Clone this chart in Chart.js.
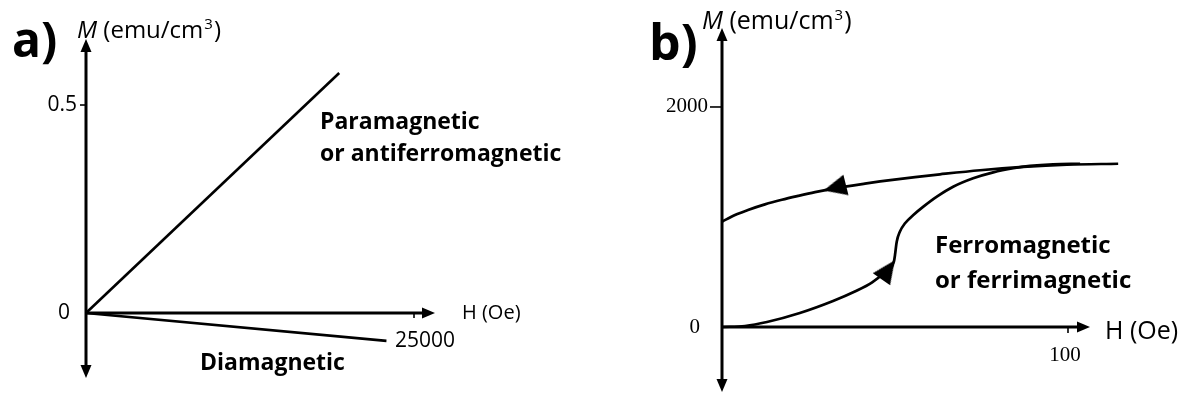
<!DOCTYPE html>
<html>
<head>
<meta charset="utf-8">
<script src="https://cdn.jsdelivr.net/npm/chart.js@4.4.1/dist/chart.umd.min.js"></script>
<style>
  html, body { margin: 0; padding: 0; background: #fff; }
  #wrap { position: relative; width: 1186px; height: 396px; overflow: hidden; }
  canvas { position: absolute; top: 0; }
  #chartA { left: 0; }
  #chartB { left: 593px; }
</style>
</head>
<body>
<div id="wrap">
  <canvas id="chartA" width="593" height="396"></canvas>
  <canvas id="chartB" width="593" height="396"></canvas>
</div>
<script>
// ---- a) linear magnetisation curves ----
const paraH = [0, 19300];
const paraM = [0, 0.577];
const diaH  = [0, 22900];
const diaM  = [0, -0.067];
const aTickX = [25000];
const aTickXLabels = ['25000'];
const aTickY = [0, 0.5];
const aTickYLabels = ['0', '0.5'];

// ---- b) hysteresis loop ----
// descending branch (from saturation back to remanence)
const downH = [0, 3.76, 7.51, 12.4, 17.3, 22.0, 26.9, 33.0, 41.3, 45.7, 55.8, 63.0, 74.6, 87.0, 99.7, 114.5];
const downM = [957, 1018, 1064, 1115, 1157, 1192, 1226, 1262, 1303, 1323, 1363, 1388, 1425, 1455, 1475, 1484];
// initial magnetisation curve
const riseH = [0, 6.65, 13.0, 22.5, 32.1, 38.4, 43.4, 46.8, 49.7, 50.0, 50.5, 51.4, 52.9, 55.3, 58.2, 62.1, 66.8, 72.6, 78.4, 84.2, 89.0, 95.7, 103.5];
const riseM = [0, 9, 45, 127, 236, 322, 405, 490, 597, 655, 775, 866, 943, 1018, 1094, 1185, 1275, 1352, 1406, 1443, 1464, 1479, 1484];
// direction arrows on the curves
const arrowH = [32.6, 48.0];
const arrowM = [1266, 520];
const arrowDeg = [256, 35];
const bTickX = [100];
const bTickXLabels = ['100'];
const bTickY = [0, 2000];
const bTickYLabels = ['0', '2000'];

const pts = (xs, ys) => xs.map((v, i) => ({ x: v, y: ys[i] }));

const SANS = '"Open Sans", "Noto Sans", sans-serif';
const SERIF = '"Liberation Serif", "DejaVu Serif", serif';

// arrowhead glyph used as the point style of the direction markers (tip up)
const arrowHead = (() => {
  const c = document.createElement('canvas');
  c.width = 21; c.height = 23;
  const g = c.getContext('2d');
  g.fillStyle = '#000';
  g.beginPath(); g.moveTo(10.5, 0); g.lineTo(21, 23); g.lineTo(0, 23); g.closePath(); g.fill();
  return c;
})();

// Axes with arrowheads through the origin, tick marks and all labels
const axesPlugin = {
  id: 'axesPlugin',
  beforeDatasetsDraw(chart, args, o) {
    const { ctx, chartArea: a, scales: { x, y } } = chart;
    const x0 = x.getPixelForValue(0);
    const y0 = y.getPixelForValue(0);
    const xr = a.right, yt = a.top, yb = a.bottom;
    const L = 13, W = 5.5;
    ctx.save();
    ctx.strokeStyle = '#000';
    ctx.fillStyle = '#000';
    ctx.lineWidth = o.axisWidth;
    ctx.lineCap = 'butt';
    ctx.beginPath();
    ctx.moveTo(x0, yt + L - 2); ctx.lineTo(x0, yb - L + 2);
    ctx.moveTo(x0, y0); ctx.lineTo(xr - L + 2, y0);
    ctx.stroke();
    const tri = (p) => { ctx.beginPath(); ctx.moveTo(...p[0]); ctx.lineTo(...p[1]); ctx.lineTo(...p[2]); ctx.closePath(); ctx.fill(); };
    tri([[x0, yt], [x0 - W, yt + L], [x0 + W, yt + L]]);
    tri([[x0, yb], [x0 - W, yb - L], [x0 + W, yb - L]]);
    tri([[xr, y0], [xr - L, y0 - W], [xr - L, y0 + W]]);
    ctx.lineWidth = 1.6;
    o.tickX.forEach(v => {
      const px = x.getPixelForValue(v);
      ctx.beginPath(); ctx.moveTo(px, y0 - 1); ctx.lineTo(px, y0 + o.tickLenX); ctx.stroke();
    });
    o.tickY.forEach(v => {
      if (v === 0) return;
      const py = y.getPixelForValue(v);
      ctx.beginPath(); ctx.moveTo(x0 - o.tickLenY, py); ctx.lineTo(x0, py); ctx.stroke();
    });
    ctx.restore();
  },
  afterDraw(chart, args, o) {
    const { ctx, chartArea: a, scales: { x, y } } = chart;
    const x0 = x.getPixelForValue(0);
    const y0 = y.getPixelForValue(0);
    ctx.save();
    ctx.fillStyle = '#000';
    ctx.font = o.tickFont;
    ctx.textBaseline = 'middle';
    o.tickY.forEach((v, i) => {
      ctx.textAlign = 'right';
      const dx = v === 0 ? o.originDx : o.tickYDx;
      ctx.fillText(o.tickYLabels[i], x0 + dx, y.getPixelForValue(v));
    });
    o.tickX.forEach((v, i) => {
      ctx.textAlign = o.tickXAlign;
      ctx.fillText(o.tickXLabels[i], x.getPixelForValue(v) + o.tickXDx, y0 + o.tickXDy);
    });
    ctx.font = o.hFont;
    ctx.textAlign = 'left';
    ctx.fillText('H (Oe)', a.right + o.hDx, y0 + o.hDy);
    // vertical axis title: italic M, units with superscript 3
    ctx.textBaseline = 'alphabetic';
    let tx = o.mPos[0];
    const ty = o.mPos[1];
    ctx.font = 'italic ' + o.mFont;
    ctx.fillText('M', tx, ty);
    tx += ctx.measureText('M').width;
    ctx.font = o.mFont;
    ctx.fillText(' (emu/cm', tx, ty);
    tx += ctx.measureText(' (emu/cm').width;
    ctx.font = o.supFont;
    ctx.fillText('3', tx + 1, ty - o.supRise);
    tx += ctx.measureText('3').width + 2;
    ctx.font = o.mFont;
    ctx.fillText(')', tx, ty);
    ctx.font = o.letterFont;
    ctx.fillText(o.letter, o.letterPos[0], o.letterPos[1]);
    ctx.font = o.noteFont;
    o.notes.forEach(n => ctx.fillText(n.text, n.x, n.y));
    ctx.restore();
  }
};

const baseOptions = (pad, xr, yr, axes) => ({
  responsive: false,
  animation: false,
  layout: { padding: pad, autoPadding: false },
  events: [],
  scales: {
    x: { type: 'linear', min: xr[0], max: xr[1], display: false },
    y: { type: 'linear', min: yr[0], max: yr[1], display: false }
  },
  elements: { point: { radius: 0 } },
  plugins: { legend: { display: false }, tooltip: { enabled: false }, axesPlugin: axes }
});

// Panel a
new Chart(document.getElementById('chartA'), {
  type: 'scatter',
  plugins: [axesPlugin],
  data: {
    datasets: [
      { label: 'Paramagnetic or antiferromagnetic', data: pts(paraH, paraM), showLine: true, borderColor: '#000', borderWidth: 2.6, clip: false },
      { label: 'Diamagnetic', data: pts(diaH, diaM), showLine: true, borderColor: '#000', borderWidth: 2.6, clip: false }
    ]
  },
  options: baseOptions({ left: 86, right: 158, top: 39, bottom: 18 }, [0, 26600], [-0.15625, 0.6587], {
    axisWidth: 3,
    tickX: aTickX, tickXLabels: aTickXLabels, tickY: aTickY, tickYLabels: aTickYLabels,
    tickLenX: 5, tickLenY: 6,
    tickFont: '21px ' + SANS,
    tickYDx: -9, originDx: -16,
    tickXAlign: 'left', tickXDx: -19, tickXDy: 28,
    hFont: '20px ' + SANS, hDx: 27, hDy: 0,
    mFont: '24px ' + SANS, supFont: '15px ' + SANS, supRise: 9, mPos: [77, 38],
    letter: 'a)', letterFont: 'bold 48px ' + SANS, letterPos: [12, 57],
    noteFont: 'bold 23px ' + SANS,
    notes: [
      { text: 'Paramagnetic', x: 320, y: 129 },
      { text: 'or antiferromagnetic', x: 320, y: 161 },
      { text: 'Diamagnetic', x: 200, y: 370 }
    ]
  })
});

// Panel b
new Chart(document.getElementById('chartB'), {
  type: 'scatter',
  plugins: [axesPlugin],
  data: {
    datasets: [
      { label: 'descending branch', data: pts(downH, downM), showLine: true, borderColor: '#000', borderWidth: 2.7, cubicInterpolationMode: 'monotone', clip: false },
      { label: 'initial curve', data: pts(riseH, riseM), showLine: true, borderColor: '#000', borderWidth: 2.7, cubicInterpolationMode: 'monotone', clip: false },
      { label: 'direction', data: pts(arrowH, arrowM), showLine: false, pointStyle: arrowHead, pointRadius: 11, pointRotation: arrowDeg, clip: false }
    ]
  },
  options: baseOptions({ left: 129, right: 96, top: 28, bottom: 4 }, [0, 106.36], [-591, 2718], {
    axisWidth: 3,
    tickX: bTickX, tickXLabels: bTickXLabels, tickY: bTickY, tickYLabels: bTickYLabels,
    tickLenX: 6, tickLenY: 12,
    tickFont: '21px ' + SERIF,
    tickYDx: -14, originDx: -22,
    tickXAlign: 'center', tickXDx: -3, tickXDy: 28,
    hFont: '25px ' + SANS, hDx: 15, hDy: 5,
    mFont: '25px ' + SANS, supFont: '15px ' + SANS, supRise: 9, mPos: [109, 29],
    letter: 'b)', letterFont: 'bold 50px ' + SANS, letterPos: [56, 60],
    noteFont: 'bold 24px ' + SANS,
    notes: [
      { text: 'Ferromagnetic', x: 342, y: 253 },
      { text: 'or ferrimagnetic', x: 342, y: 288 }
    ]
  })
});
</script>
</body>
</html>
